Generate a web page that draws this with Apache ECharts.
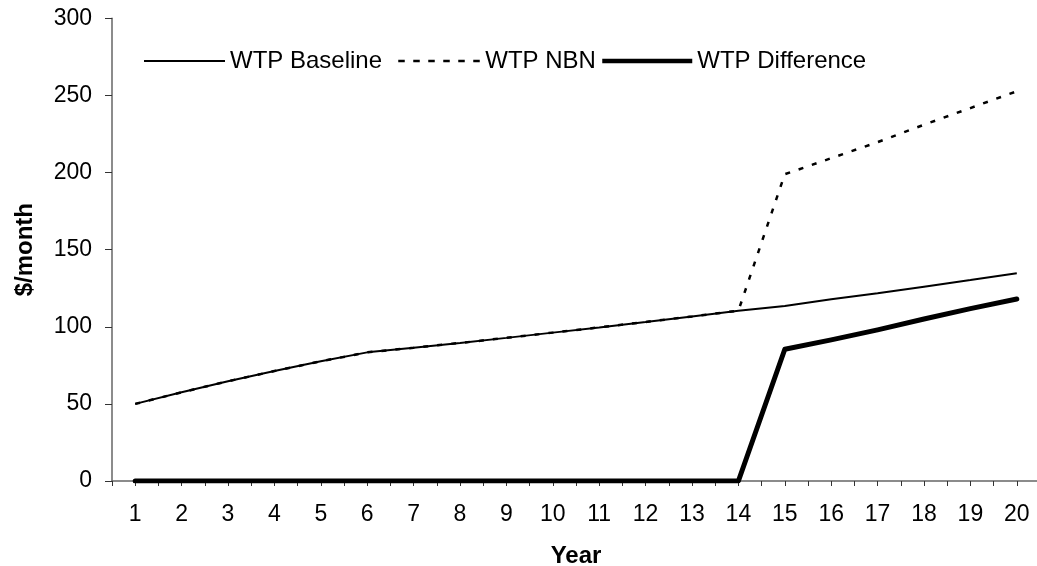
<!DOCTYPE html>
<html>
<head>
<meta charset="utf-8">
<script src="https://cdn.jsdelivr.net/npm/echarts@6/dist/echarts.min.js"></script>
<style>
  html, body { margin: 0; padding: 0; background: #fff; }
  #chart { width: 1037px; height: 566px; }
</style>
</head>
<body>
<div id="chart"></div>
<script>
// Year index 1..20
const years = [1, 2, 3, 4, 5, 6, 7, 8, 9, 10, 11, 12, 13, 14, 15, 16, 17, 18, 19, 20];

// Willingness to pay, $/month
const wtpBaseline = [50, 57.5, 64.7, 71.3, 77.6, 83.4, 86.4, 89.5, 92.8, 96.2,
                     99.6, 103.1, 106.7, 110.4, 113.5, 117.8, 121.7, 126, 130.3, 134.7];
const wtpNBN = [50, 57.5, 64.7, 71.3, 77.6, 83.4, 86.4, 89.5, 92.8, 96.2,
                99.6, 103.1, 106.7, 110.4, 198.9, 209.3, 219.7, 231, 241.8, 252.7];
const wtpDifference = [0, 0, 0, 0, 0, 0, 0, 0, 0, 0,
                       0, 0, 0, 0, 85.4, 91.5, 98, 105, 111.8, 118];

const yTicks = [0, 50, 100, 150, 200, 250, 300];

const FONT = 'Liberation Sans, Arial, sans-serif';
const pairs = vals => years.map((y, i) => [y, vals[i]]);

const chart = echarts.init(document.getElementById('chart'), null, { renderer: 'canvas' });

// one legend block per series so each key line can have its own length
function legendFor(name, left, itemWidth, lineStyle) {
  return {
    top: 44,
    left: left,
    itemWidth: itemWidth,
    itemHeight: 14,
    itemGap: 0,
    data: [name],
    selectedMode: false,
    itemStyle: { opacity: 0 },
    lineStyle: Object.assign({ color: '#000', cap: 'butt' }, lineStyle),
    textStyle: { fontFamily: FONT, fontSize: 24, color: '#000', padding: [0, 0, 0, 0] }
  };
}

chart.setOption({
  animation: false,
  backgroundColor: '#fff',
  grid: {
    left: 112, top: 18.3, width: 928, height: 462.7,
    containLabel: false, outerBoundsMode: 'none'
  },
  legend: [
    legendFor('WTP Baseline', 138, 81, { width: 2 }),
    legendFor('WTP NBN', 392, 82, { width: 2.5, type: [6.5, 8.5] }),
    legendFor('WTP Difference', 595, 90, { width: 4.5 })
  ],
  xAxis: {
    type: 'value',
    min: 0.5,
    max: 20.5,
    interval: 0.5,
    name: 'Year',
    nameLocation: 'middle',
    nameGap: 63,
    nameTextStyle: { fontFamily: FONT, fontSize: 24, fontWeight: 'bold', color: '#000' },
    axisLine: { show: true, lineStyle: { color: '#666', width: 1.5 } },
    axisTick: { show: true, length: 5, lineStyle: { color: '#333', width: 1 } },
    splitLine: { show: false },
    axisLabel: {
      fontFamily: FONT, fontSize: 23, color: '#000', margin: 22,
      showMinLabel: true, showMaxLabel: true,
      formatter: v => (Math.abs(v - Math.round(v)) < 1e-6 && years.includes(Math.round(v))) ? String(Math.round(v)) : ''
    }
  },
  yAxis: {
    type: 'value',
    min: yTicks[0],
    max: yTicks[yTicks.length - 1],
    interval: yTicks[1] - yTicks[0],
    name: '$/month',
    nameLocation: 'middle',
    nameGap: 75,
    nameTextStyle: { fontFamily: FONT, fontSize: 24, fontWeight: 'bold', color: '#000' },
    axisLine: { show: true, lineStyle: { color: '#666', width: 1.5 } },
    axisTick: { show: true, length: 7, lineStyle: { color: '#333', width: 1 } },
    splitLine: { show: false },
    axisLabel: { fontFamily: FONT, fontSize: 23, color: '#000', margin: 20 }
  },
  series: [
    {
      name: 'WTP Baseline',
      type: 'line',
      data: pairs(wtpBaseline),
      symbol: 'none',
      color: '#000',
      lineStyle: { color: '#000', width: 2 },
      z: 3
    },
    {
      name: 'WTP NBN',
      type: 'line',
      data: pairs(wtpNBN),
      symbol: 'none',
      color: '#000',
      lineStyle: { color: '#000', width: 2.5, type: [5, 9], cap: 'butt' },
      z: 2
    },
    {
      name: 'WTP Difference',
      type: 'line',
      data: pairs(wtpDifference),
      symbol: 'none',
      color: '#000',
      lineStyle: { color: '#000', width: 5, cap: 'round', join: 'round' },
      z: 4
    }
  ]
});
</script>
</body>
</html>
